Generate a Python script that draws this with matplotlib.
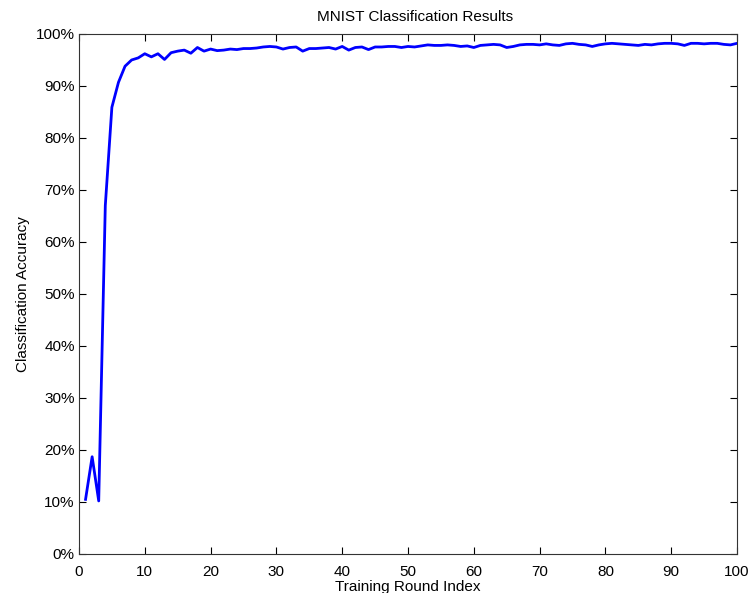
import matplotlib
matplotlib.use('Agg')
import matplotlib.pyplot as plt
import numpy as np
from matplotlib.ticker import FuncFormatter

plt.rcParams['font.family'] = ['Liberation Sans', 'DejaVu Sans']

# training round index and accuracy
rounds = np.arange(1, 101)
accuracy = [
    0.105, 0.187, 0.102, 0.670, 0.859, 0.907, 0.938, 0.950, 0.954, 0.962,
    0.956, 0.962, 0.951, 0.964, 0.967, 0.969, 0.963, 0.974, 0.967, 0.971,
    0.968, 0.969, 0.971, 0.970, 0.972, 0.972, 0.973, 0.975, 0.976, 0.975,
    0.971, 0.974, 0.975, 0.967, 0.972, 0.972, 0.973, 0.974, 0.971, 0.976,
    0.969, 0.974, 0.975, 0.970, 0.975, 0.975, 0.976, 0.976, 0.974, 0.976,
    0.975, 0.977, 0.979, 0.978, 0.978, 0.979, 0.978, 0.976, 0.977, 0.974,
    0.978, 0.979, 0.980, 0.979, 0.974, 0.976, 0.979, 0.980, 0.980, 0.979,
    0.981, 0.979, 0.978, 0.981, 0.982, 0.980, 0.979, 0.976, 0.979, 0.981,
    0.982, 0.981, 0.980, 0.979, 0.978, 0.980, 0.979, 0.981, 0.982, 0.982,
    0.981, 0.978, 0.982, 0.982, 0.981, 0.982, 0.982, 0.980, 0.979, 0.982,
]
x_ticks = np.arange(0, 101, 10)
y_ticks = np.arange(0, 1.01, 0.1)

fig = plt.figure(figsize=(7.5, 5.93), dpi=100)
ax = fig.add_axes([0.1053, 0.0658, 0.8774, 0.8769])
ax.plot(rounds, accuracy, color='blue', lw=2)

ax.set_xlim(0, 100)
ax.set_ylim(0, 1)
ax.set_xticks(x_ticks)
ax.set_yticks(y_ticks)
ax.yaxis.set_major_formatter(FuncFormatter(lambda v, p: '%d%%' % round(v * 100)))
ax.tick_params(direction='in', length=5, width=0.8, top=True, right=True,
               labelsize=11, colors='black')
ax.tick_params(axis='x', pad=8)
ax.tick_params(axis='y', pad=3)
for s in ax.spines.values():
    s.set_linewidth(0.8)
    s.set_color('#333333')

ax.set_title('MNIST Classification Results', fontsize=11, pad=9, x=0.511)
ax.set_xlabel('Training Round Index', fontsize=11, labelpad=1)
ax.set_ylabel('Classification Accuracy', fontsize=11, labelpad=4)

fig.savefig('out.png', dpi=100)
